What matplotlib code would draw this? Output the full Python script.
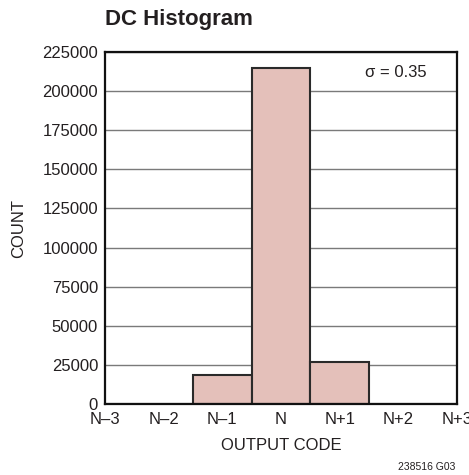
import numpy as np
import matplotlib
matplotlib.use("Agg")
import matplotlib.pyplot as plt

# histogram data, codes N-3 .. N+3
codes = ['N\u20133', 'N\u20132', 'N\u20131', 'N', 'N+1', 'N+2', 'N+3']
offsets = [-3, -2, -1, 0, 1, 2, 3]
counts = [0, 0, 18500, 214500, 27000, 0, 0]
yticks = [0, 25000, 50000, 75000, 100000, 125000, 150000, 175000, 200000, 225000]

plt.rcParams['font.family'] = ['Liberation Sans Narrow', 'Liberation Sans', 'DejaVu Sans']
txt_col = '#231f20'
bar_col = '#e4c0ba'

fig = plt.figure(figsize=(4.69, 4.75), dpi=100)
ax = fig.add_axes([105 / 469, 1 - 404 / 475, 352 / 469, 352 / 475])

ax.bar(offsets, counts, width=1.0, color=bar_col, edgecolor='#2a2a2a', linewidth=1.5, zorder=3)

ax.set_xlim(-3, 3)
ax.set_ylim(0, 225000)
ax.set_xticks(offsets)
ax.set_xticklabels(codes)
ax.set_yticks(yticks)
ax.set_yticklabels([str(v) for v in yticks])
ax.tick_params(length=0, labelsize=12, colors=txt_col)
ax.tick_params(axis='x', pad=6)
ax.tick_params(axis='y', pad=5)
ax.yaxis.grid(True, color='#7a7a7a', linewidth=1.0, zorder=0)

for s in ax.spines.values():
    s.set_linewidth(1.6)
    s.set_color('#111111')
    s.set_zorder(4)

ax.set_xlabel('OUTPUT CODE', fontsize=12, color=txt_col, labelpad=8)
ax.set_ylabel('COUNT', fontsize=12, color=txt_col, labelpad=12)

ax.text(1.96, 212000, '\u03c3 = 0.35', fontsize=12, color=txt_col, ha='center', va='center')

fig.text(105 / 469, 1 - 20 / 475, 'DC Histogram', fontsize=16, fontweight='bold',
         color=txt_col, ha='left', va='center')
fig.text(455 / 469, 1 - 467 / 475, '238516 G03', fontsize=7.5, color=txt_col,
         ha='right', va='center')

fig.savefig('out.png', dpi=100)
